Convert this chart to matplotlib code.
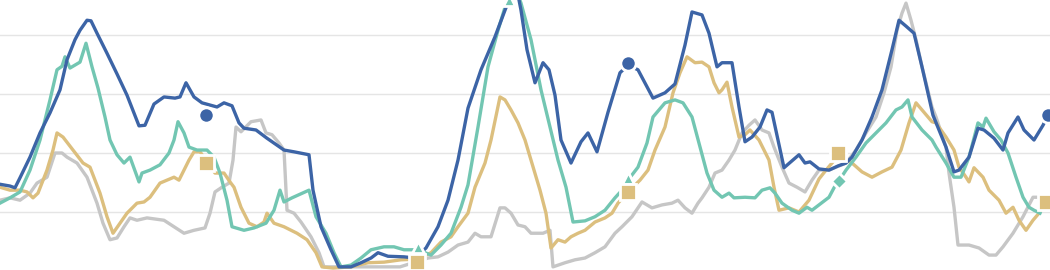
import matplotlib
matplotlib.use("Agg")
import matplotlib.pyplot as plt

# ---- data (x = day index, y = value) ----
blue_x = [0, 10, 15, 20, 30, 40, 50, 60, 67, 75, 80, 87, 91, 97, 107, 117, 127, 139, 145, 154,
          164, 175, 180, 186, 194, 202, 217, 224, 232, 239, 244, 256, 267, 284, 294, 309, 313, 321,
          331, 339, 351, 361, 371, 378, 388, 404, 415, 426, 438, 448, 458, 468, 481, 495, 505, 511,
          518, 521, 527, 535, 543, 549, 555, 561, 571, 581, 588, 597, 608, 620, 628, 638, 653, 665,
          675, 685, 692, 702, 709, 717, 722, 732, 739, 745, 752, 760, 767, 772, 784, 799, 805, 810,
          819, 829, 838, 846, 852, 862, 872, 882, 892, 899, 906, 914, 922, 933, 946, 954, 959, 969,
          978, 984, 994, 1003, 1008, 1018, 1024, 1034, 1043, 1048]
blue_y = [14.7, 14.4, 14.1, 15.8, 19.3, 23.4, 26.8, 30.7, 35.8, 39.2, 40.8, 42.5, 42.4, 40.3, 36.9,
          33.4, 29.8, 24.6, 24.7, 28.3, 29.5, 29.3, 29.5, 31.9, 29.5, 28.5, 27.8, 28.5, 28.0, 25.1,
          24.2, 23.9, 22.5, 20.5, 20.2, 19.7, 13.7, 7.5, 3.6, 0.7, 0.7, 1.4, 2.2, 3.1, 2.5, 2.4, 2.2,
          3.9, 7.5, 12.0, 18.8, 27.6, 34.1, 39.7, 44.2, 46.8, 46.8, 44.2, 37.5, 31.9, 35.3, 34.1,
          29.8, 22.2, 18.3, 21.9, 23.4, 20.2, 26.9, 33.6, 34.9, 34.1, 29.3, 30.2, 31.7, 38.3, 43.9,
          43.4, 40.3, 34.6, 35.3, 35.3, 27.8, 21.9, 22.7, 24.4, 27.3, 26.9, 17.5, 19.7, 18.3, 18.5,
          17.3, 17.1, 17.8, 18.3, 19.3, 22.2, 26.1, 30.7, 37.5, 42.5, 41.5, 40.3, 34.6, 26.4, 21.0,
          16.8, 17.1, 19.3, 24.2, 23.9, 22.5, 20.5, 23.4, 26.1, 23.9, 22.2, 24.7, 26.4]

teal_x = [0, 10, 20, 30, 40, 50, 57, 62, 65, 70, 80, 86, 92, 98, 105, 110, 117, 124, 130, 139, 142,
          150, 160, 169, 174, 178, 184, 189, 197, 207, 214, 220, 227, 232, 244, 254, 266, 274, 280,
          284, 292, 309, 316, 326, 334, 341, 351, 361, 371, 384, 394, 404, 418, 431, 441, 451, 461,
          468, 478, 488, 498, 505, 510, 518, 521, 531, 541, 550, 558, 566, 573, 585, 595, 605, 615,
          622, 628, 638, 647, 653, 665, 675, 683, 692, 700, 707, 714, 722, 729, 734, 745, 755, 762,
          770, 775, 782, 792, 799, 807, 812, 819, 829, 834, 839, 846, 856, 866, 876, 886, 896, 902,
          908, 912, 922, 932, 936, 946, 954, 961, 969, 978, 983, 986, 994, 1001, 1008, 1016, 1023,
          1029, 1034, 1040]
teal_y = [11.5, 12.4, 13.4, 17.1, 22.2, 29.0, 34.1, 34.7, 36.3, 34.4, 35.4, 38.6, 34.6, 31.0, 26.1,
          22.2, 19.7, 18.3, 19.3, 15.1, 16.6, 17.1, 18.0, 20.0, 22.2, 25.3, 23.4, 21.0, 20.5, 20.5,
          19.3, 16.6, 12.0, 7.5, 6.9, 7.3, 8.1, 10.3, 13.7, 11.7, 12.4, 13.7, 9.2, 6.4, 3.1, 0.7, 1.0,
          2.2, 3.6, 4.1, 4.1, 3.6, 3.6, 2.7, 4.4, 6.4, 10.8, 14.6, 24.4, 34.6, 40.8, 44.7, 46.8, 46.8,
          45.4, 39.2, 30.7, 24.4, 18.8, 14.2, 8.3, 8.5, 9.2, 10.3, 12.4, 13.7, 15.4, 17.6, 21.7, 26.1,
          28.5, 29.0, 28.5, 26.1, 21.0, 16.6, 13.7, 12.5, 13.2, 12.4, 12.5, 12.4, 13.7, 14.1, 13.2,
          11.5, 10.3, 9.8, 10.8, 10.3, 11.2, 12.5, 14.1, 15.3, 17.1, 19.3, 21.7, 23.4, 25.1, 27.3,
          27.8, 29.0, 26.1, 23.9, 22.2, 21.0, 18.3, 15.9, 15.9, 19.3, 25.1, 24.4, 25.9, 23.6, 22.2,
          20.0, 15.9, 12.5, 10.8, 10.3, 9.8]

tan_x = [0, 10, 20, 27, 33, 38, 47, 53, 57, 63, 73, 83, 90, 100, 107, 113, 120, 127, 137, 144, 150,
         160, 167, 174, 179, 184, 189, 194, 200, 206, 215, 224, 230, 234, 241, 249, 257, 264, 267,
         274, 284, 297, 307, 316, 322, 333, 351, 368, 384, 401, 417, 431, 441, 451, 458, 468, 475,
         485, 491, 500, 505, 511, 518, 525, 531, 540, 546, 551, 558, 565, 571, 578, 585, 595, 605,
         612, 618, 628, 640, 648, 655, 665, 673, 680, 687, 695, 702, 709, 714, 719, 722, 727, 732,
         739, 745, 750, 759, 769, 774, 779, 789, 799, 809, 819, 826, 838, 852, 862, 872, 882, 892,
         901, 909, 916, 922, 932, 936, 946, 954, 959, 966, 969, 974, 983, 989, 999, 1006, 1013, 1019,
         1026, 1033, 1039, 1046]
tan_y = [14.2, 13.7, 13.7, 13.4, 12.4, 13.2, 17.1, 20.5, 23.4, 22.7, 20.5, 18.3, 17.6, 13.2, 9.2,
         6.4, 8.1, 9.8, 11.5, 11.7, 12.5, 14.9, 15.4, 15.9, 15.4, 17.1, 18.8, 20.2, 20.2, 18.8, 16.6,
         16.6, 15.1, 14.2, 10.8, 8.1, 7.5, 8.3, 9.8, 8.1, 7.5, 6.4, 5.3, 3.1, 0.7, 0.5, 0.7, 1.4, 1.5,
         1.9, 2.0, 3.1, 4.9, 5.8, 7.5, 9.8, 14.2, 18.3, 22.2, 29.5, 29.0, 27.3, 25.1, 22.2, 18.8,
         13.7, 9.8, 3.9, 5.3, 4.9, 5.8, 6.4, 6.9, 8.3, 9.0, 9.8, 11.5, 13.4, 15.4, 17.1, 20.5, 24.4,
         30.2, 33.6, 36.3, 35.3, 35.4, 34.6, 31.9, 30.2, 30.7, 32.0, 27.8, 22.7, 23.1, 23.9, 22.2,
         18.8, 14.2, 10.3, 10.7, 10.0, 12.0, 15.6, 17.1, 19.5, 18.3, 16.8, 15.9, 16.8, 17.6, 20.5,
         25.1, 28.5, 27.3, 25.3, 25.1, 22.7, 20.5, 17.6, 15.9, 15.1, 17.5, 15.9, 13.7, 12.0, 9.8,
         10.8, 8.6, 6.9, 8.6, 9.8, 11.7]

gray_x = [0, 10, 20, 30, 37, 47, 55, 62, 67, 77, 87, 97, 103, 110, 117, 124, 130, 137, 147, 164,
          174, 184, 194, 205, 210, 215, 222, 229, 233, 236, 241, 251, 261, 266, 272, 279, 284, 287,
          294, 301, 311, 319, 324, 351, 400, 428, 438, 448, 458, 468, 475, 481, 491, 500, 505, 511,
          518, 525, 531, 543, 550, 553, 565, 575, 585, 595, 605, 615, 622, 632, 642, 652, 662, 672,
          678, 685, 692, 698, 702, 709, 715, 722, 729, 735, 742, 749, 755, 762, 769, 774, 782, 789,
          797, 805, 812, 819, 829, 846, 856, 866, 876, 884, 891, 897, 902, 906, 911, 916, 922, 932,
          936, 946, 949, 954, 958, 969, 979, 989, 996, 1003, 1013, 1023, 1033, 1043, 1050]
gray_y = [12.0, 12.4, 12.0, 13.2, 14.9, 15.9, 20.0, 20.0, 19.3, 18.3, 15.9, 11.5, 8.1, 5.3, 5.6,
          7.5, 9.0, 8.6, 9.0, 8.6, 7.5, 6.4, 6.9, 7.3, 9.8, 13.4, 14.2, 14.9, 18.8, 24.4, 23.6, 25.3,
          25.6, 23.4, 23.1, 21.7, 20.5, 10.3, 9.8, 8.3, 5.8, 3.1, 0.7, 0.7, 0.7, 2.2, 2.4, 3.2, 4.4,
          4.9, 6.4, 5.8, 5.8, 10.7, 10.7, 9.8, 7.8, 7.5, 6.4, 6.4, 6.9, 0.7, 1.4, 1.9, 2.2, 3.1, 4.1,
          6.4, 7.5, 9.2, 11.7, 10.7, 11.2, 11.5, 12.0, 10.7, 9.8, 11.5, 12.4, 14.2, 16.6, 17.1, 18.8,
          20.5, 23.4, 24.7, 25.6, 23.9, 23.4, 21.0, 17.6, 14.9, 14.2, 13.4, 15.4, 17.1, 17.1, 18.3,
          20.5, 23.4, 26.1, 30.2, 34.6, 40.8, 43.7, 45.4, 42.5, 39.2, 34.6, 27.8, 26.1, 21.0, 16.6,
          10.8, 4.4, 4.4, 3.9, 2.7, 2.7, 4.1, 6.4, 9.2, 12.5, 12.5, 12.5]

# highlighted points
blue_mx = [206, 628, 1048]
blue_my = [26.4, 35.3, 26.4]
tan_mx = [206, 417, 628, 838, 1046]
tan_my = [18.3, 1.5, 13.4, 20.0, 11.7]
teal_tri_x = [418, 509, 628]
teal_tri_y = [4.1, 46.0, 15.8]
teal_dia_x = [839]
teal_dia_y = [15.3]

grid_vals = [10, 20, 30, 40]

C_BLUE = "#3c64a6"
C_TEAL = "#72c6b2"
C_TAN = "#dcbf7e"
C_GRAY = "#c6c6c6"

fig = plt.figure(figsize=(10.5, 2.7), dpi=100)
ax = fig.add_axes([0, 0, 1, 1])
ax.set_xlim(0, 1050)
ax.set_ylim(0.17, 45.93)
for g in grid_vals:
    ax.axhline(g, color="#e5e5e5", lw=1.0, zorder=0)

lw = 2.4
ax.plot(gray_x, gray_y, color=C_GRAY, lw=lw, zorder=1, solid_joinstyle="round")
ax.plot(tan_x, tan_y, color=C_TAN, lw=lw, zorder=2, solid_joinstyle="round")
ax.plot(teal_x, teal_y, color=C_TEAL, lw=lw, zorder=3, solid_joinstyle="round")
ax.plot(blue_x, blue_y, color=C_BLUE, lw=lw, zorder=4, solid_joinstyle="round")

mk = dict(markeredgecolor="white", markeredgewidth=2, linestyle="none", zorder=6, clip_on=False)
ax.plot(teal_tri_x, teal_tri_y, marker="^", color=C_TEAL, markersize=9, **mk)
ax.plot(tan_mx, tan_my, marker="s", color=C_TAN, markersize=11, **mk)
ax.plot(teal_dia_x, teal_dia_y, marker="D", color=C_TEAL, markersize=8, **mk)
ax.plot(blue_mx, blue_my, marker="o", color=C_BLUE, markersize=11, **mk)

ax.axis("off")
fig.savefig("out.png", dpi=100)
